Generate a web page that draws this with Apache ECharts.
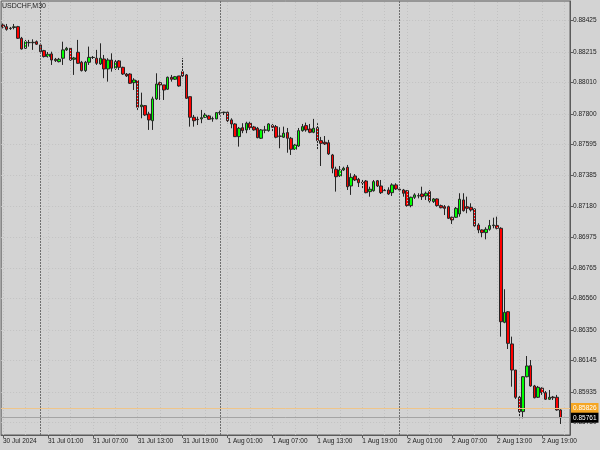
<!DOCTYPE html>
<html><head><meta charset="utf-8">
<script src="https://cdn.jsdelivr.net/npm/echarts@6/dist/echarts.min.js"></script>
<style>html,body{margin:0;padding:0;background:#d3d3d3;}#c{width:600px;height:450px;}</style>
</head><body><div id="c"></div>
<script>
const chartTitle = 'USDCHF,M30';
const firstBar = Date.UTC(2024, 6, 30, 19, 0); // 30 Jul 2024 19:00, M30 bars
const barCount = 152; // 150 bars + 2 empty slots on the right
const xLabelEvery = 12;
const gridEvery = 6;
const daySeparators = [10, 58, 106];

const opens = [
0.88396,0.88385,0.88372,0.88379,0.88385,0.88307,0.88240,0.88279,0.88277,0.88284,
0.88262,0.88224,0.88184,0.88202,0.88166,0.88150,0.88173,0.88229,0.88240,0.88166,
0.88213,0.88146,0.88090,0.88146,0.88178,0.88173,0.88135,0.88168,0.88101,0.88161,
0.88106,0.88155,0.88112,0.88067,0.88067,0.88009,0.88023,0.87848,0.87855,0.87799,
0.87754,0.87900,0.88009,0.87994,0.87965,0.88045,0.88032,0.88054,0.88083,0.88061,
0.87915,0.87777,0.87763,0.87766,0.87777,0.87786,0.87766,0.87766,0.87806,0.87808,
0.87811,0.87759,0.87732,0.87647,0.87707,0.87692,0.87737,0.87712,0.87703,0.87636,
0.87692,0.87687,0.87723,0.87714,0.87651,0.87643,0.87674,0.87636,0.87562,0.87584,
0.87687,0.87721,0.87698,0.87676,0.87707,0.87620,0.87609,0.87606,0.87524,0.87428,
0.87383,0.87423,0.87441,0.87316,0.87383,0.87361,0.87341,0.87349,0.87278,0.87284,
0.87351,0.87316,0.87287,0.87289,0.87271,0.87323,0.87294,0.87289,0.87284,0.87184,
0.87240,0.87249,0.87262,0.87249,0.87278,0.87211,0.87229,0.87184,0.87177,0.87177,
0.87106,0.87106,0.87128,0.87222,0.87177,0.87173,0.87162,0.87054,0.87021,0.87003,
0.87025,0.87050,0.87050,0.87032,0.86401,0.86472,0.86256,0.86081,0.85898,0.85802,
0.86036,0.86110,0.85974,0.85898,0.85959,0.85929,0.85885,0.85900,0.85898,0.85813];
const closes = [
0.88383,0.88367,0.88375,0.88384,0.88307,0.88235,0.88284,0.88277,0.88280,0.88267,
0.88217,0.88184,0.88200,0.88161,0.88157,0.88166,0.88229,0.88240,0.88161,0.88175,
0.88139,0.88090,0.88146,0.88179,0.88179,0.88139,0.88173,0.88101,0.88161,0.88106,
0.88150,0.88112,0.88067,0.88054,0.88005,0.88027,0.87844,0.87859,0.87792,0.87759,
0.87900,0.88000,0.87994,0.87960,0.88045,0.88032,0.88049,0.87987,0.88054,0.87904,
0.87777,0.87754,0.87761,0.87774,0.87792,0.87763,0.87768,0.87808,0.87809,0.87811,
0.87754,0.87732,0.87647,0.87703,0.87687,0.87737,0.87707,0.87692,0.87640,0.87692,
0.87690,0.87732,0.87710,0.87643,0.87649,0.87670,0.87636,0.87562,0.87591,0.87687,
0.87714,0.87692,0.87676,0.87703,0.87620,0.87602,0.87598,0.87531,0.87435,0.87378,
0.87423,0.87435,0.87311,0.87374,0.87356,0.87338,0.87336,0.87271,0.87294,0.87345,
0.87316,0.87271,0.87284,0.87262,0.87323,0.87296,0.87289,0.87267,0.87184,0.87240,
0.87256,0.87251,0.87244,0.87267,0.87215,0.87229,0.87184,0.87170,0.87166,0.87099,
0.87088,0.87166,0.87227,0.87150,0.87166,0.87155,0.87048,0.87021,0.87003,0.87025,
0.87050,0.87054,0.87032,0.86405,0.86468,0.86260,0.86081,0.85898,0.85802,0.86036,
0.86108,0.85974,0.85895,0.85965,0.85929,0.85885,0.85898,0.85895,0.85813,0.85761];
const lows = [
0.88373,0.88358,0.88363,0.88367,0.88302,0.88232,0.88235,0.88251,0.88229,0.88262,
0.88215,0.88178,0.88178,0.88128,0.88148,0.88145,0.88128,0.88222,0.88155,0.88061,
0.88135,0.88084,0.88081,0.88128,0.88168,0.88128,0.88128,0.88039,0.88016,0.88083,
0.88094,0.88094,0.88061,0.88047,0.88000,0.87960,0.87826,0.87770,0.87786,0.87692,
0.87692,0.87893,0.87893,0.87893,0.87960,0.88016,0.88027,0.87982,0.88039,0.87900,
0.87714,0.87714,0.87725,0.87737,0.87772,0.87759,0.87747,0.87764,0.87792,0.87792,
0.87737,0.87703,0.87645,0.87580,0.87670,0.87670,0.87692,0.87687,0.87636,0.87631,
0.87670,0.87680,0.87678,0.87636,0.87569,0.87638,0.87539,0.87524,0.87558,0.87578,
0.87680,0.87680,0.87670,0.87670,0.87557,0.87450,0.87591,0.87524,0.87401,0.87278,
0.87376,0.87417,0.87289,0.87256,0.87349,0.87309,0.87301,0.87267,0.87244,0.87278,
0.87309,0.87262,0.87276,0.87256,0.87249,0.87289,0.87282,0.87244,0.87177,0.87173,
0.87229,0.87233,0.87222,0.87222,0.87204,0.87202,0.87177,0.87166,0.87121,0.87094,
0.87061,0.87101,0.87110,0.87144,0.87133,0.87144,0.87043,0.86999,0.86972,0.86958,
0.87016,0.87032,0.87025,0.86305,0.86395,0.86222,0.85969,0.85887,0.85757,0.85757,
0.86032,0.85969,0.85891,0.85893,0.85914,0.85880,0.85880,0.85880,0.85808,0.85719];
const highs = [
0.88406,0.88403,0.88383,0.88403,0.88390,0.88316,0.88296,0.88296,0.88300,0.88292,
0.88269,0.88229,0.88215,0.88217,0.88175,0.88175,0.88284,0.88249,0.88245,0.88182,
0.88296,0.88155,0.88155,0.88251,0.88188,0.88229,0.88273,0.88195,0.88173,0.88206,
0.88161,0.88161,0.88116,0.88074,0.88072,0.88039,0.88027,0.87942,0.87859,0.87814,
0.87915,0.88072,0.88016,0.87994,0.88050,0.88061,0.88054,0.88054,0.88173,0.88067,
0.87915,0.87792,0.87781,0.87826,0.87806,0.87792,0.87781,0.87812,0.87821,0.87814,
0.87814,0.87770,0.87737,0.87712,0.87737,0.87747,0.87747,0.87719,0.87712,0.87698,
0.87719,0.87737,0.87732,0.87725,0.87710,0.87714,0.87705,0.87645,0.87598,0.87705,
0.87732,0.87741,0.87732,0.87766,0.87737,0.87645,0.87651,0.87625,0.87531,0.87445,
0.87450,0.87445,0.87457,0.87401,0.87396,0.87370,0.87356,0.87356,0.87311,0.87356,
0.87356,0.87356,0.87303,0.87307,0.87334,0.87334,0.87303,0.87296,0.87289,0.87244,
0.87267,0.87267,0.87311,0.87278,0.87289,0.87235,0.87233,0.87191,0.87188,0.87184,
0.87110,0.87175,0.87267,0.87267,0.87244,0.87200,0.87166,0.87066,0.87025,0.87039,
0.87088,0.87103,0.87110,0.87039,0.86623,0.86477,0.86305,0.86081,0.85907,0.86041,
0.86175,0.86148,0.85981,0.85974,0.85965,0.85940,0.85947,0.85907,0.85914,0.85818];

const yTickLabels = [0.88425,0.88215,0.88010,0.87800,0.87595,0.87385,0.87180,0.86975,0.86765,0.86560,0.86350,0.86145,0.85935,0.85730];
const yMin = 0.85645, yMax = 0.88557;
const orangeLevel = 0.85826;
const bidLevel = closes[closes.length - 1];

const MON = ['Jan','Feb','Mar','Apr','May','Jun','Jul','Aug','Sep','Oct','Nov','Dec'];
const pad = n => (n < 10 ? '0' : '') + n;
const categories = [];
for (let i = 0; i < barCount; i++) {
  const d = new Date(firstBar + i * 1800000);
  categories.push(i === 0 ? d.getUTCDate() + ' ' + MON[d.getUTCMonth()] + ' ' + d.getUTCFullYear()
    : d.getUTCDate() + ' ' + MON[d.getUTCMonth()] + ' ' + pad(d.getUTCHours()) + ':' + pad(d.getUTCMinutes()));
}
const candles = opens.map((o, i) => [o, closes[i], lows[i], highs[i]]);

const FONT = 'Liberation Sans';
const gridLines = [];
for (let i = 0; i < barCount; i += gridEvery) {
  if (daySeparators.indexOf(i) < 0) gridLines.push({xAxis: i, lineStyle: {color: '#c2c2c2', type: [1, 2], width: 1}});
}
daySeparators.forEach(i => gridLines.push({xAxis: i, lineStyle: {color: '#6e6e6e', type: [2, 1], width: 1}}));

const levelLabel = (bg, txt) => ({show: true, position: 'end', distance: 1, backgroundColor: bg, color: '#ffffff',
  fontSize: 6.5, padding: [2, 2, 1, 2], fontFamily: FONT, formatter: txt});

const chart = echarts.init(document.getElementById('c'), null, {renderer: 'canvas'});
chart.setOption({
  animation: false,
  backgroundColor: '#d3d3d3',
  textStyle: {fontFamily: FONT},
  title: {text: chartTitle, left: 2, top: 3, padding: 0,
    textStyle: {fontSize: 7, fontWeight: 'normal', color: '#222', fontFamily: FONT}},
  grid: {left: 0, right: 30, top: 1, bottom: 15, show: true, borderColor: '#5a5a5a', borderWidth: 1},
  xAxis: {
    type: 'category', data: categories, boundaryGap: true,
    axisLine: {lineStyle: {color: '#5a5a5a', width: 1}},
    axisTick: {show: true, alignWithLabel: true, length: 3, lineStyle: {color: '#5a5a5a'},
      interval: i => i % xLabelEvery === 0},
    axisLabel: {interval: i => i % xLabelEvery === 0, align: 'left', margin: 3,
      fontSize: 6.5, color: '#222', fontFamily: FONT},
    splitLine: {show: false}
  },
  yAxis: {
    type: 'value', position: 'right', min: yMin, max: yMax, scale: true,
    axisLine: {show: true, lineStyle: {color: '#5a5a5a', width: 1}},
    axisTick: {show: true, length: 3, customValues: yTickLabels, lineStyle: {color: '#5a5a5a'}},
    axisLabel: {customValues: yTickLabels, margin: 3, fontSize: 6.5, color: '#222', fontFamily: FONT,
      formatter: v => v.toFixed(5)},
    splitLine: {show: true, lineStyle: {color: '#c2c2c2', type: [1, 2], width: 1}}
  },
  series: [
    {
      type: 'line', data: [], z: 1, silent: true,
      markLine: {silent: true, symbol: ['none', 'none'], label: {show: false}, data: gridLines}
    },
    {
      type: 'candlestick', data: candles, z: 3, barWidth: 3,
      itemStyle: {color: '#00ff00', color0: '#ff0000', borderColor: '#262626', borderColor0: '#262626', borderWidth: 1}
    },
    {
      type: 'line', data: [], z: 2, silent: true,
      markLine: {
        silent: true, symbol: ['none', 'none'], precision: 5,
        data: [
          {yAxis: orangeLevel, lineStyle: {color: '#efc58a', type: 'solid', width: 1},
            label: levelLabel('#f5a623', orangeLevel.toFixed(5))},
          {yAxis: bidLevel, lineStyle: {color: '#a4a4a4', type: 'solid', width: 1},
            label: levelLabel('#000000', bidLevel.toFixed(5))}
        ]
      }
    }
  ]
});
</script></body></html>
